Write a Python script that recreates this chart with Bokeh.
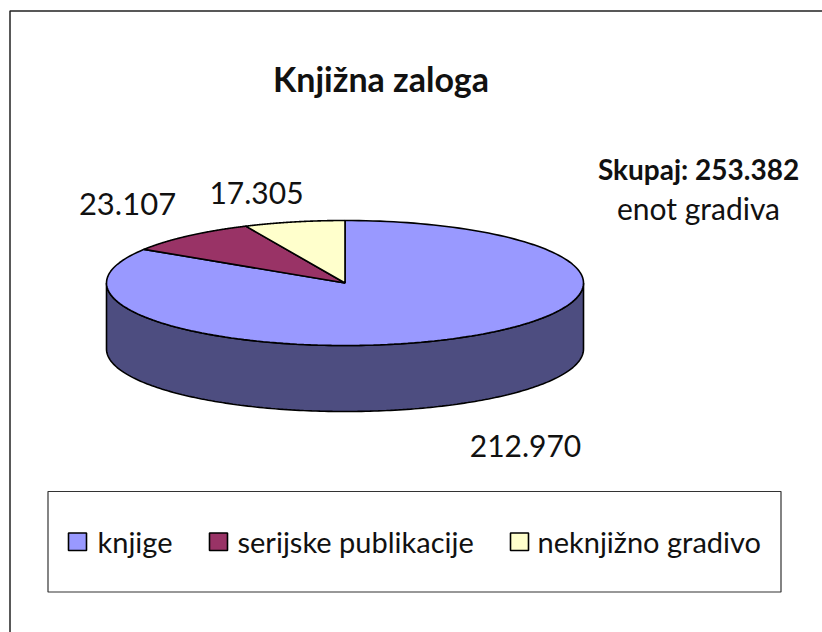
import math
from bokeh.plotting import figure
from bokeh.models import Range1d
from bokeh.core.properties import value
from bokeh.embed import file_html
from bokeh.resources import INLINE

TITLE = "Knjižna zaloga"
CATEGORIES = ["knjige", "serijske publikacije", "neknjižno gradivo"]
VALUES = [212970, 23107, 17305]
VALUE_LABELS = ["212.970", "23.107", "17.305"]
COLORS = ["#9999FF", "#993366", "#FFFFCC"]
SIDE_COLOR = "#4D4D80"
NOTE_BOLD = "Skupaj: 253.382"
NOTE = "enot gradiva"
FONT = "Lato"

W, H = 822, 632
p = figure(width=W, height=H, x_range=Range1d(0, W), y_range=Range1d(H, 0),
           output_backend="svg", toolbar_location=None, min_border=0)
p.axis.visible = False
p.xgrid.visible = False
p.ygrid.visible = False
p.outline_line_color = None

# chart frame
p.line([9.5, 9.5, 822], [632, 10.5, 10.5], line_color="#222222", line_width=1.5)

CX, CY, RX, RY, DEPTH = 344.5, 282.5, 238.5, 62.5, 66


def pt(t):
    return CX + RX * math.sin(t), CY - RY * math.cos(t)


def arc(t0, t1, n=180):
    return [pt(t0 + (t1 - t0) * i / n) for i in range(n + 1)]


# side wall
front = arc(math.pi * 0.5, math.pi * 1.5)
xs = [a for a, _ in front] + [a for a, _ in reversed(front)]
ys = [b for _, b in front] + [b + DEPTH for _, b in reversed(front)]
p.patch(xs, ys, fill_color=SIDE_COLOR, line_color="black", line_width=1.6)

# slices clockwise from 12 o'clock
total = sum(VALUES)
t = 0.0
for v, c in zip(VALUES, COLORS):
    t1 = t + 2 * math.pi * v / total
    a = arc(t, t1)
    p.patch([CX] + [q[0] for q in a], [CY] + [q[1] for q in a],
            fill_color=c, line_color="black", line_width=1.6)
    t = t1


def label(x, y, s, size, bold=False, align="center"):
    p.text([x], [y], text=[s], text_font=value(FONT), text_font_size=size,
           text_font_style="bold" if bold else "normal", text_align=align,
           text_baseline="alphabetic", text_color="#111111")


label(380.5, 78, TITLE, "34px", bold=True)
label(698, 168, NOTE_BOLD, "28px", bold=True)
label(698, 207, NOTE, "30px")
label(525, 445, VALUE_LABELS[0], "30px")
label(127, 203, VALUE_LABELS[1], "31px")
label(256, 192, VALUE_LABELS[2], "30px")

# legend
p.quad(left=[47.5], right=[780.5], top=[491], bottom=[591.5], fill_color="white",
       line_color="#333333", line_width=1.2)
for sx, tx, name, c in zip([68, 209, 510], [97, 237, 537], CATEGORIES, COLORS):
    p.quad(left=[sx], right=[sx + 18], top=[532.5], bottom=[550], fill_color=c,
           line_color="black", line_width=1.6)
    label(tx, 541, name, "29px", align="left")

open("out.html", "w").write(file_html(p, INLINE))
